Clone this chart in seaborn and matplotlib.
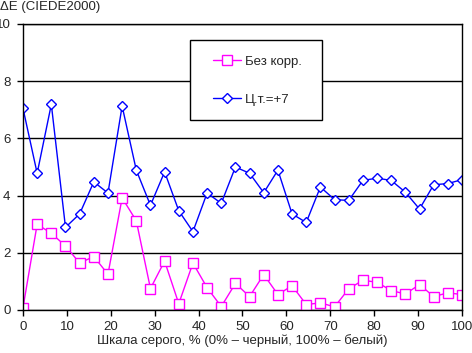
import numpy as np
import pandas as pd
import matplotlib
matplotlib.use("Agg")
import matplotlib.pyplot as plt
from matplotlib.patches import Rectangle
import seaborn as sns

n_points = 32
x_vals = [i * 100 / 31 for i in range(n_points)]
bez_korr = [0.08, 3.00, 2.68, 2.24, 1.64, 1.87, 1.25, 3.92, 3.12, 0.75, 1.71, 0.22,
            1.64, 0.78, 0.12, 0.93, 0.47, 1.24, 0.54, 0.85, 0.19, 0.25, 0.11, 0.74,
            1.04, 0.97, 0.68, 0.56, 0.89, 0.47, 0.60, 0.54]
ct_plus7 = [7.05, 4.78, 7.19, 2.89, 3.36, 4.48, 4.09, 7.13, 4.89, 3.66, 4.83, 3.47,
            2.74, 4.09, 3.73, 5.00, 4.78, 4.10, 4.89, 3.36, 3.06, 4.30, 3.86, 3.83,
            4.53, 4.61, 4.53, 4.12, 3.53, 4.38, 4.42, 4.56]
series_names = ["Без корр.", "Ц.т.=+7"]
x_ticks = list(range(0, 101, 10))
y_ticks = list(range(0, 11, 2))
title = "ΔE (CIEDE2000)"
xlabel = "Шкала серого, % (0% – черный, 100% – белый)"

sns.set_style("white")
plt.rcParams['font.family'] = ['Liberation Sans', 'DejaVu Sans']
FS = 9.5
plt.rcParams['font.size'] = FS

fig = plt.figure(figsize=(4.72, 3.53), dpi=100)
ax = fig.add_axes([23/472, 1-310/353, (462-23)/472, (310-24)/353])

df = pd.DataFrame({"x": x_vals, series_names[0]: bez_korr, series_names[1]: ct_plus7})

sns.lineplot(data=df, x="x", y=series_names[0], ax=ax, color="#FF00FF", lw=1,
             marker="s", markersize=6.5, markerfacecolor="white",
             markeredgecolor="#FF00FF", markeredgewidth=1, label=series_names[0])
sns.lineplot(data=df, x="x", y=series_names[1], ax=ax, color="#0000FF", lw=1,
             marker="D", markersize=5.5, markerfacecolor="white",
             markeredgecolor="#0000FF", markeredgewidth=1, label=series_names[1])

ax.set_xlim(0, 100)
ax.set_ylim(0, 10)
ax.set_xticks(x_ticks)
ax.set_yticks(y_ticks)
ax.yaxis.grid(True, color="black", lw=1)
ax.xaxis.grid(False)
for s in ax.spines.values():
    s.set_color("black")
    s.set_linewidth(1)
ax.tick_params(axis="both", which="both", direction="out", length=4, width=1,
               color="black", labelsize=FS, pad=2)
ax.tick_params(axis="y", left=True, pad=5)
ax.tick_params(axis="x", bottom=True, pad=4)
ax.set_xlabel(xlabel, fontsize=FS, labelpad=1)
ax.set_ylabel("")
fig.text(0, 1 - 7/353, title, fontsize=FS, ha="left", va="center")

# legend frame box
ax.add_patch(Rectangle((167/439, 190/286), 132/439, 80/286, transform=ax.transAxes,
                       facecolor="white", edgecolor="black", lw=1, zorder=4,
                       clip_on=False))
leg = ax.legend(loc="center left", bbox_to_anchor=(190/439, (310-80.5)/286),
                frameon=False, borderpad=0, labelspacing=1.95, handlelength=2.1,
                handletextpad=0.3, borderaxespad=0, fontsize=FS)
leg.set_zorder(5)

fig.savefig("out.png", dpi=100, facecolor="white")
